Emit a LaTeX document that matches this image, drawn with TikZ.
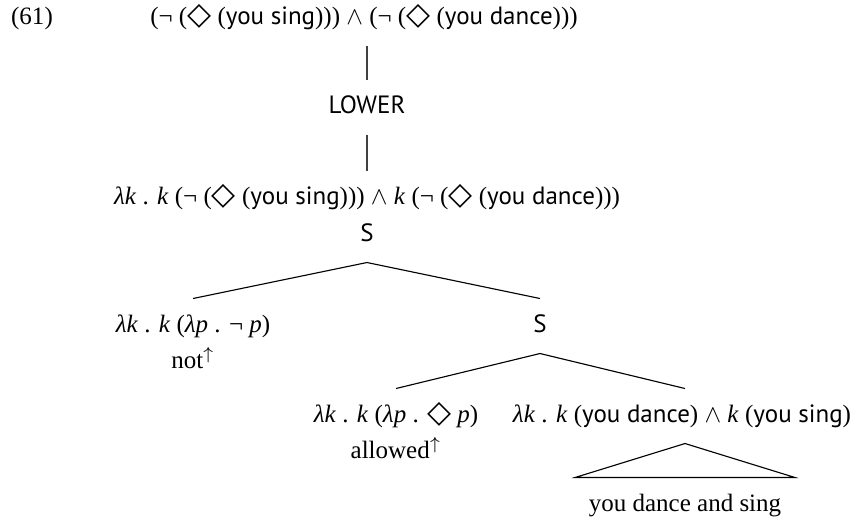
\documentclass[tikz,border=0pt]{standalone}
\usepackage{amssymb}
\usepackage{fontspec}
\setmainfont{Liberation Serif}
\setsansfont{PT Sans}
\newfontfamily\symfont{DejaVu Sans}
\usetikzlibrary{positioning}
\newcommand{\sw}[1]{\textsf{#1}}
\newcommand{\dia}{{\symfont\fontsize{12.5}{12}\selectfont ◇}}
\newcommand{\lam}[1]{\textit{λ#1}}
\tikzset{
  lbl/.style ={inner sep=0pt, text height=7pt, text depth=2pt, outer ysep=6.5pt, font=\fontsize{10}{12}\selectfont},
  cat/.style ={lbl, font=\fontsize{10}{12}\selectfont\sffamily},
  br/.style  ={line width=0.45pt},
  vl/.style  ={line width=0.45pt, draw=black!75},
}
\begin{document}
\begin{tikzpicture}[x=0.4pt, y=-0.4pt]
  \useasboundingbox (0,0) rectangle (851,523);
  % example number and result
  \node[lbl] (num) at (32,18) {(61)};
  \node[lbl] (res) at (364,18) {(¬ (\dia\ (\sw{you sing}))) $\wedge$ (¬ (\dia\ (\sw{you dance})))};
  \node[cat] (lower) at (367,107) {LOWER};
  \node[lbl] (den) at (367,198) {\lam{k} . \textit{k} (¬ (\dia\ (\sw{you sing}))) $\wedge$ \textit{k} (¬ (\dia\ (\sw{you dance})))};
  \draw[vl] (res.south -| lower) -- (lower);
  \draw[vl] (lower) -- (den.north -| lower);
  % tree
  \node[cat] (s1) at (367,235) {S};
  \node[lbl] (neg) at (193,326) {\lam{k} . \textit{k} (\lam{p} . ¬ \textit{p})};
  \node[lbl] (negw) at (193,362) {not$^{\uparrow}$};
  \node[cat] (s2) at (540,326) {S};
  \node[lbl] (mod) at (396,416) {\lam{k} . \textit{k} (\lam{p} . \dia\ \textit{p})};
  \node[lbl] (modw) at (396,452) {allowed$^{\uparrow}$};
  \node[lbl] (conj) at (682,416) {\lam{k} . \textit{k} (\sw{you dance}) $\wedge$ \textit{k} (\sw{you sing})};
  \node[lbl] (conjw) at (685,505) {you dance and sing};
  \draw[br] (neg.north) -- (s1.south) -- (s2.north);
  \draw[br] (mod.north) -- (s2.south) -- ([xshift=1.2pt]conj.north);
  \draw[br] ([xshift=1.2pt]conj.south) -- ([xshift=-44pt]conjw.north) -- ([xshift=44pt]conjw.north) -- cycle;
\end{tikzpicture}
\end{document}
